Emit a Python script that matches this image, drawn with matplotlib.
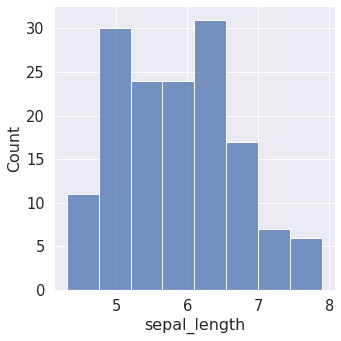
import numpy as np
import matplotlib
matplotlib.use("Agg")
import matplotlib.pyplot as plt
import seaborn as sns

# iris sepal_length histogram, 8 bins
bin_edges = [4.3, 4.75, 5.2, 5.65, 6.1, 6.55, 7.0, 7.45, 7.9]
counts = [11, 30, 24, 24, 31, 17, 7, 6]

sns.set_theme(style="darkgrid", font_scale=1.4)

centers = [(a + b) / 2 for a, b in zip(bin_edges[:-1], bin_edges[1:])]
fig, ax = plt.subplots(figsize=(5, 5), dpi=68.2)
sns.histplot(x=centers, weights=counts, bins=bin_edges, ax=ax)
ax.set_xlabel("sepal_length")
ax.set_ylabel("Count")
fig.subplots_adjust(left=0.158, right=0.982, bottom=0.150, top=0.982)
fig.savefig("out.png", dpi=68.2)
